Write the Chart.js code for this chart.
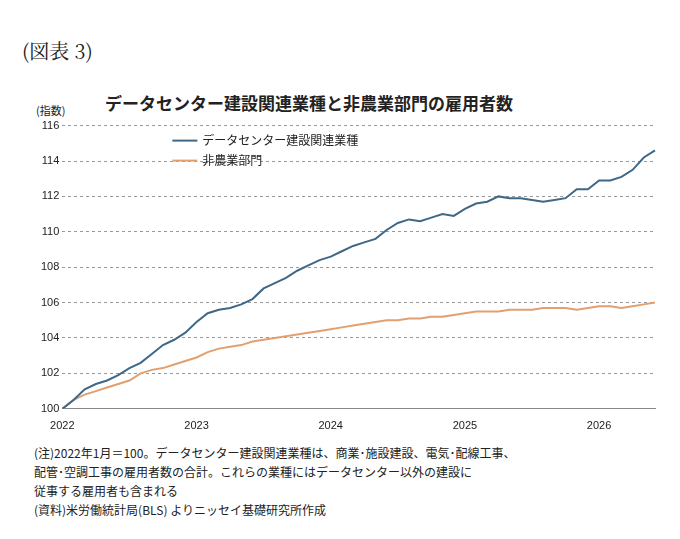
<!DOCTYPE html>
<html><head><meta charset="utf-8">
<script src="https://cdn.jsdelivr.net/npm/chart.js@4"></script>
<style>
body{margin:0;background:#fff;font-family:"Noto Sans CJK JP","Noto Sans",sans-serif;color:#222;}
#wrap{position:relative;width:680px;height:539px;}
#fig{position:absolute;left:22px;top:36px;font-size:20px;font-family:"Noto Serif CJK JP","DejaVu Serif",serif;}
#ttl{position:absolute;left:105px;top:90px;font-size:17px;font-weight:bold;}
#unit{position:absolute;left:36px;top:102px;font-size:11px;}
#cv{position:absolute;left:38px;top:116px;}
#note{position:absolute;left:34px;top:443px;font-size:12px;line-height:19px;}
</style></head><body><div id="wrap">
<div id="fig">(図表 3)</div>
<div id="ttl">データセンター建設関連業種と非農業部門の雇用者数</div>
<div id="unit">(指数)</div>
<canvas id="cv" width="627" height="320"></canvas>
<div id="note">(注)2022年1月＝100。データセンター建設関連業種は、商業･施設建設、電気･配線工事、<br>配管･空調工事の雇用者数の合計。これらの業種にはデータセンター以外の建設に<br>従事する雇用者も含まれる<br>(資料)米労働統計局(BLS) よりニッセイ基礎研究所作成</div>
</div>
<script>
const years=['2022','2023','2024','2025','2026'];
const dcConstruction=[100,100.5,101.1,101.4,101.6,101.9,102.3,102.6,103.1,103.6,103.9,104.3,
104.9,105.4,105.6,105.7,105.9,106.2,106.8,107.1,107.4,107.8,108.1,108.4,
108.6,108.9,109.2,109.4,109.6,110.1,110.5,110.7,110.6,110.8,111.0,110.9,
111.3,111.6,111.7,112.0,111.9,111.9,111.8,111.7,111.8,111.9,112.4,112.4,
112.9,112.9,113.1,113.5,114.2,114.6];
const nonfarm=[100,100.5,100.8,101.0,101.2,101.4,101.6,102.0,102.2,102.3,102.5,102.7,
102.9,103.2,103.4,103.5,103.6,103.8,103.9,104.0,104.1,104.2,104.3,104.4,
104.5,104.6,104.7,104.8,104.9,105.0,105.0,105.1,105.1,105.2,105.2,105.3,
105.4,105.5,105.5,105.5,105.6,105.6,105.6,105.7,105.7,105.7,105.6,105.7,
105.8,105.8,105.7,105.8,105.9,106.0];
const labels=dcConstruction.map((_,i)=>i%12===0?years[i/12]:'');
new Chart(document.getElementById('cv'),{type:'line',
data:{labels,datasets:[
{label:'データセンター建設関連業種',data:dcConstruction,borderColor:'#3f6887',borderWidth:2,pointRadius:0,tension:0},
{label:'非農業部門',data:nonfarm,borderColor:'#e0a070',borderWidth:2,pointRadius:0,tension:0}]},
options:{responsive:false,animation:false,
layout:{padding:{right:10,top:8}},
plugins:{legend:{display:false}},
scales:{x:{offset:false,grid:{display:false},border:{color:'#888'},
ticks:{autoSkip:false,maxRotation:0,color:'#222',font:{size:11},callback:(v,i)=>labels[i]}},
y:{min:100,max:116,ticks:{stepSize:2,color:'#222',font:{size:11}},
grid:{color:'#999',drawTicks:false},border:{display:false,dash:[3,3]}}}},
plugins:[{id:'leg',afterDraw(c){const x=c.ctx;const a=c.chartArea;
const items=[['データセンター建設関連業種','#3f6887'],['非農業部門','#e0a070']];
x.save();x.font='12px "Noto Sans CJK JP"';x.textBaseline='middle';
items.forEach((it,k)=>{const y=a.top+15+k*20;x.strokeStyle=it[1];x.lineWidth=2;
x.beginPath();x.moveTo(a.left+110,y);x.lineTo(a.left+135,y);x.stroke();x.fillStyle='#222';x.fillText(it[0],a.left+140,y);});
x.restore();}}]
});
</script></body></html>
